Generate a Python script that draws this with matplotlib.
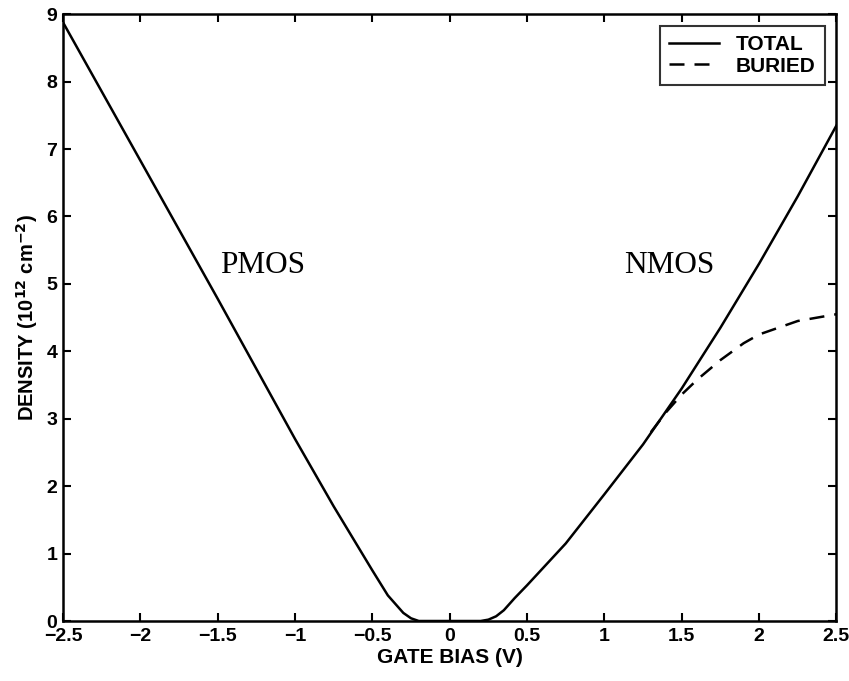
import numpy as np
import matplotlib.pyplot as plt

# total density
gate_total = [-2.5, -2.0, -1.5, -1.0, -0.75, -0.5, -0.4, -0.3, -0.25, -0.2,
              0.0, 0.2, 0.25, 0.3, 0.35, 0.42, 0.5, 0.75, 1.0, 1.25, 1.5,
              1.75, 2.0, 2.25, 2.5]
dens_total = [8.88, 6.83, 4.78, 2.70, 1.70, 0.75, 0.38, 0.12, 0.04, 0.0,
              0.0, 0.0, 0.02, 0.07, 0.16, 0.34, 0.53, 1.15, 1.88, 2.62, 3.45,
              4.35, 5.30, 6.30, 7.35]

# buried channel density (splits from total around 1.4 V)
gate_buried = [1.3, 1.4, 1.5, 1.6, 1.75, 1.9, 2.0, 2.25, 2.5]
dens_buried = [2.80, 3.10, 3.36, 3.58, 3.87, 4.12, 4.25, 4.45, 4.55]

xticks = [-2.5, -2, -1.5, -1, -0.5, 0, 0.5, 1, 1.5, 2, 2.5]
xtick_labels = ['\u22122.5', '\u22122', '\u22121.5', '\u22121', '\u22120.5', '0',
                '0.5', '1', '1.5', '2', '2.5']
yticks = list(range(10))

plt.rcParams['font.family'] = ['Liberation Sans', 'DejaVu Sans']

fig = plt.figure(figsize=(8.49, 6.81), dpi=100)
ax = fig.add_axes([0.0742, 0.0881, 0.911, 0.891])

ax.plot(gate_total, dens_total, color='black', lw=1.8, label='TOTAL')
ax.plot(gate_buried, dens_buried, color='black', lw=1.8, ls=(0, (6, 4)),
        label='BURIED')

ax.set_xlim(-2.5, 2.5)
ax.set_ylim(0, 9)
ax.set_xticks(xticks)
ax.set_xticklabels(xtick_labels)
ax.set_yticks(yticks)
ax.tick_params(direction='in', top=True, right=True, length=6, width=1.5,
               labelsize=14, pad=4)
ax.tick_params(axis='x', pad=5)
for lab in ax.get_xticklabels() + ax.get_yticklabels():
    lab.set_fontweight('bold')
for sp in ax.spines.values():
    sp.set_linewidth(1.8)

ax.set_xlabel('GATE BIAS (V)', fontsize=15, fontweight='bold', labelpad=2)
ax.set_ylabel(r'DENSITY (10$^{\mathbf{12}}$ cm$^{\mathbf{-2}}$)', fontsize=14.5,
              fontweight='bold', labelpad=5)

ax.text(-1.21, 5.28, 'PMOS', family='Liberation Serif', fontsize=22.5,
        ha='center', va='center')
ax.text(1.42, 5.28, 'NMOS', family='Liberation Serif', fontsize=22.5,
        ha='center', va='center')

leg = ax.legend(loc='upper right', prop={'size': 15, 'weight': 'bold'},
                frameon=True, fancybox=False, borderaxespad=0.55,
                handlelength=2.4, borderpad=0.45, labelspacing=0.12,
                handletextpad=0.8)
leg.get_frame().set_edgecolor('black')
leg.get_frame().set_linewidth(1.5)

fig.savefig('out.png', dpi=100)
